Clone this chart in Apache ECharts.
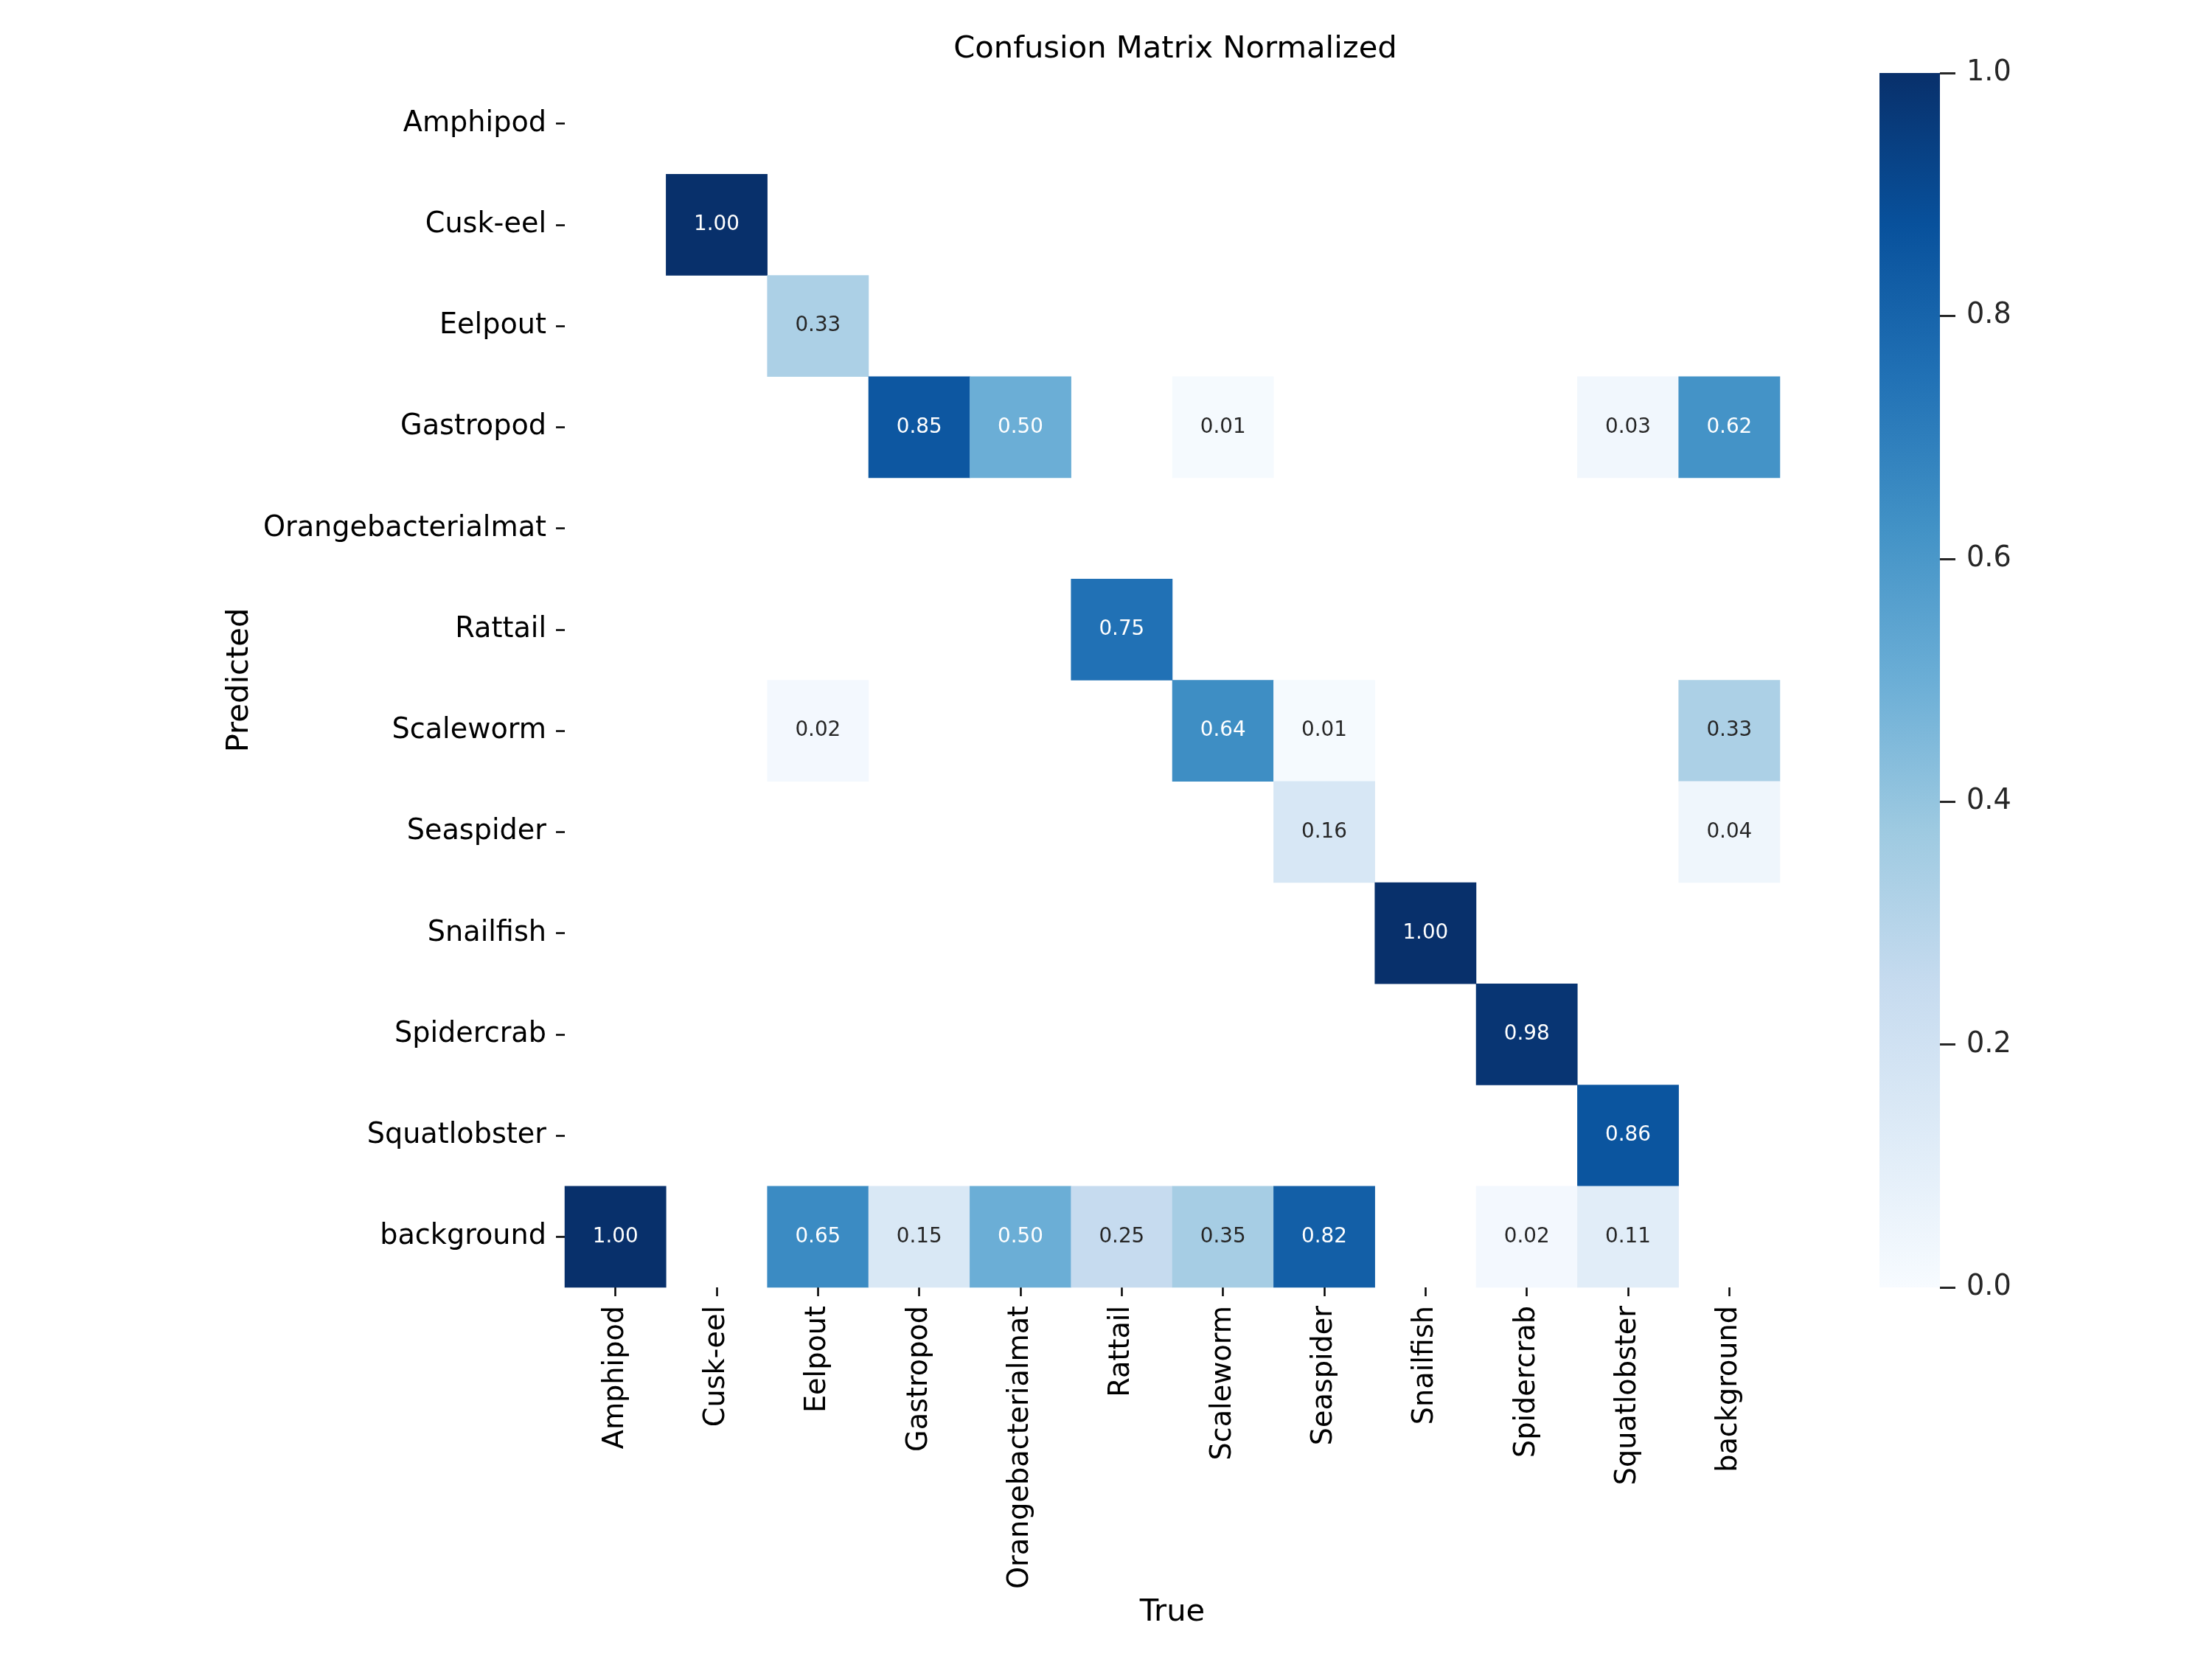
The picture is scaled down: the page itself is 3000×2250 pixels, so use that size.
<!DOCTYPE html>
<html>
<head>
<meta charset="utf-8">
<script src="https://cdn.jsdelivr.net/npm/echarts@6/dist/echarts.min.js"></script>
<style>html,body{margin:0;padding:0;background:#fff;}#chart{width:3000px;height:2250px;}</style>
</head>
<body>
<div id="chart"></div>
<script>
// Categories (True = columns / x, Predicted = rows / y)
const classes = ['Amphipod','Cusk-eel','Eelpout','Gastropod','Orangebacterialmat','Rattail','Scaleworm','Seaspider','Snailfish','Spidercrab','Squatlobster','background'];

// One array per predicted row; values across true classes (null = 0 / masked)
const rowAmphipod           = [null,null,null,null,null,null,null,null,null,null,null,null];
const rowCuskEel            = [null,1.00,null,null,null,null,null,null,null,null,null,null];
const rowEelpout            = [null,null,0.33,null,null,null,null,null,null,null,null,null];
const rowGastropod          = [null,null,null,0.85,0.50,null,0.01,null,null,null,0.03,0.62];
const rowOrangebacterialmat = [null,null,null,null,null,null,null,null,null,null,null,null];
const rowRattail            = [null,null,null,null,null,0.75,null,null,null,null,null,null];
const rowScaleworm          = [null,null,0.02,null,null,null,0.64,0.01,null,null,null,0.33];
const rowSeaspider          = [null,null,null,null,null,null,null,0.16,null,null,null,0.04];
const rowSnailfish          = [null,null,null,null,null,null,null,null,1.00,null,null,null];
const rowSpidercrab         = [null,null,null,null,null,null,null,null,null,0.98,null,null];
const rowSquatlobster       = [null,null,null,null,null,null,null,null,null,null,0.86,null];
const rowBackground         = [1.00,null,0.65,0.15,0.50,0.25,0.35,0.82,null,0.02,0.11,null];

const rows = [rowAmphipod,rowCuskEel,rowEelpout,rowGastropod,rowOrangebacterialmat,rowRattail,rowScaleworm,rowSeaspider,rowSnailfish,rowSpidercrab,rowSquatlobster,rowBackground];

// Colour bar ticks
const colorbarTicks = [0.0,0.2,0.4,0.6,0.8,1.0];

// matplotlib "Blues"
const blues = ['#f7fbff','#deebf7','#c6dbef','#9ecae1','#6baed6','#4292c6','#2171b5','#08519c','#08306b'];

const FONT = 'DejaVu Sans';

const heatData = [];
rows.forEach((r, yi) => {
  r.forEach((v, xi) => {
    if (v !== null) {
      heatData.push({
        value: [xi, yi, v],
        label: { color: v >= 0.45 ? '#ffffff' : '#262626' }
      });
    }
  });
});

const chart = echarts.init(document.getElementById('chart'), null, { renderer: 'canvas' });

chart.setOption({
  backgroundColor: '#ffffff',
  animation: false,
  title: {
    text: 'Confusion Matrix Normalized',
    left: 1589, top: 41, textAlign: 'center',
    textStyle: { fontFamily: FONT, fontSize: 41.7, fontWeight: 'normal', color: '#000000' }
  },
  grid: [
    { left: 766, top: 99, width: 1648, height: 1647 },
    { left: 2549, top: 99, width: 82, height: 1647 }
  ],
  xAxis: [
    {
      gridIndex: 0, type: 'category', data: classes,
      name: 'True', nameLocation: 'middle', nameGap: 420,
      nameTextStyle: { fontFamily: FONT, fontSize: 41.7, color: '#000000' },
      axisLine: { show: false },
      axisTick: { show: true, alignWithLabel: true, length: 12, lineStyle: { color: '#000000', width: 2.5 } },
      axisLabel: { rotate: 90, margin: 25, fontFamily: FONT, fontSize: 38.2, color: '#000000', interval: 0 },
      splitLine: { show: false }
    },
    {
      gridIndex: 1, type: 'category', data: ['cb'], show: false
    }
  ],
  yAxis: [
    {
      gridIndex: 0, type: 'category', data: classes, inverse: true,
      name: 'Predicted', nameLocation: 'middle', nameGap: 416,
      nameTextStyle: { fontFamily: FONT, fontSize: 41.7, color: '#000000' },
      axisLine: { show: false },
      axisTick: { show: true, alignWithLabel: true, length: 12, lineStyle: { color: '#000000', width: 2.5 } },
      axisLabel: { margin: 25, fontFamily: FONT, fontSize: 38.2, color: '#000000', interval: 0 },
      splitLine: { show: false }
    },
    {
      gridIndex: 1, type: 'value', min: 0, max: 1, interval: 0.2, position: 'right',
      axisLine: { show: false },
      axisTick: { show: true, length: 21, lineStyle: { color: '#262626', width: 3 } },
      axisLabel: {
        margin: 36, fontFamily: FONT, fontSize: 38.2, color: '#262626',
        customValues: colorbarTicks,
        formatter: v => v.toFixed(1)
      },
      splitLine: { show: false }
    }
  ],
  visualMap: {
    show: false, type: 'continuous', min: 0, max: 1, seriesIndex: 0, dimension: 2,
    inRange: { color: blues }
  },
  series: [
    {
      type: 'heatmap', xAxisIndex: 0, yAxisIndex: 0, data: heatData, silent: true,
      label: {
        show: true, fontFamily: FONT, fontSize: 27.8,
        formatter: p => p.value[2].toFixed(2)
      },
      itemStyle: { borderWidth: 0 },
      emphasis: { disabled: true }
    },
    {
      type: 'bar', xAxisIndex: 1, yAxisIndex: 1, data: [1], barWidth: '100%', silent: true,
      itemStyle: {
        color: new echarts.graphic.LinearGradient(0, 1, 0, 0,
          blues.map((c, i) => ({ offset: i / (blues.length - 1), color: c })))
      },
      emphasis: { disabled: true }
    }
  ]
});
</script>
</body>
</html>
